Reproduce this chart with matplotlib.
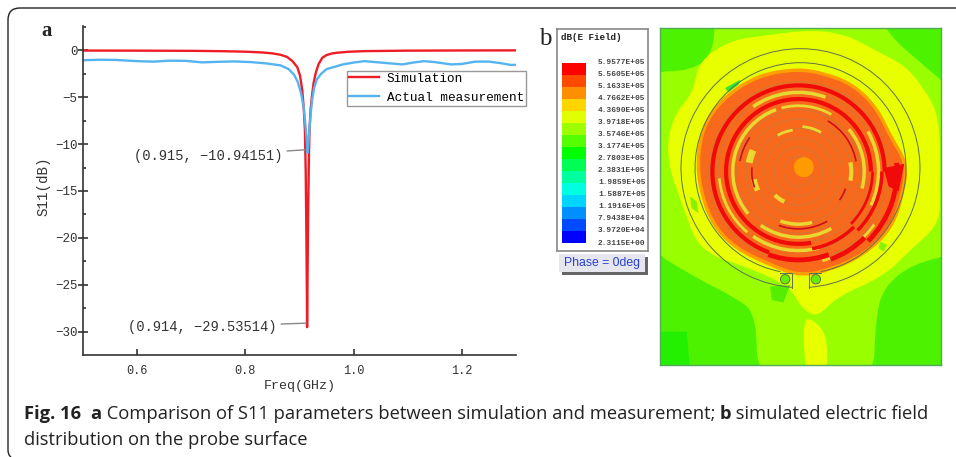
import numpy as np
import matplotlib
matplotlib.use('Agg')
import matplotlib.pyplot as plt
from matplotlib.patches import Arc, Circle, Polygon, Rectangle
from matplotlib.path import Path
from matplotlib.patches import PathPatch

# S11 curves
sim_freq = [0.5, 0.6, 0.7, 0.76, 0.8, 0.83, 0.85, 0.865, 0.877, 0.887, 0.896, 0.901, 0.905, 0.908, 0.910, 0.9115,
            0.9128, 0.9137, 0.914, 0.9146, 0.9158, 0.9175, 0.9185, 0.9205, 0.923, 0.926, 0.930, 0.935, 0.942, 0.95,
            0.96, 0.97, 0.99, 1.02, 1.1, 1.2, 1.3]
sim_s11 = [-0.02, -0.03, -0.05, -0.09, -0.14, -0.22, -0.32, -0.47, -0.7, -1.15, -1.8, -2.7, -4.2, -6.3, -8.5, -13,
           -20, -26.5, -29.53, -26, -18, -11, -8.5, -6.3, -4.9, -3.5, -2.4, -1.5, -0.8, -0.5,
           -0.33, -0.25, -0.15, -0.08, -0.03, -0.01, 0.0]

meas_freq = [0.5, 0.53, 0.56, 0.6, 0.63, 0.66, 0.69, 0.72, 0.75, 0.78, 0.81, 0.84, 0.865, 0.88, 0.89, 0.897, 0.903,
             0.908, 0.912, 0.915, 0.917, 0.92, 0.923, 0.927, 0.932, 0.94, 0.95, 0.965, 0.98, 1.0, 1.02, 1.04, 1.06,
             1.09, 1.11, 1.13, 1.15, 1.18, 1.2, 1.225, 1.25, 1.27, 1.29, 1.3]
meas_s11 = [-1.05, -1.0, -1.02, -1.15, -1.2, -1.1, -1.12, -1.28, -1.22, -1.18, -1.25, -1.4, -1.6, -2.0, -2.6, -3.4,
            -4.6, -6.2, -8.6, -10.94, -9.5, -7.2, -5.4, -4.0, -3.1, -2.5, -2.0, -1.75, -1.5, -1.3, -1.15, -1.25,
            -1.35, -1.5, -1.3, -1.15, -1.25, -1.5, -1.45, -1.2, -1.2, -1.35, -1.55, -1.55]

x_ticks = [0.6, 0.8, 1.0, 1.2]
y_ticks = [0, -5, -10, -15, -20, -25, -30]
y_minor = [2.5, -2.5, -7.5, -12.5, -17.5, -22.5, -27.5]

# colour key of panel b, top to bottom
key_labels = ['5.9577E+05', '5.5605E+05', '5.1633E+05', '4.7662E+05', '4.3690E+05', '3.9718E+05', '3.5746E+05',
              '3.1774E+05', '2.7803E+05', '2.3831E+05', '1.9859E+05', '1.5887E+05', '1.1916E+05', '7.9438E+04',
              '3.9720E+04', '2.3115E+00']
key_colors = ['#ff0000', '#ff4a00', '#ff8f00', '#ffd500', '#e0ff00', '#9dff00', '#55ff00', '#00ff00',
              '#00ff55', '#00ff9d', '#00ffe0', '#00d5ff', '#008fff', '#004aff', '#0000ff']

# field map contours
field_green = '#4df200'
band_yellowgreen = [(190, -40), (670, -40), (720, 50), (800, 120), (930, 230), (930, 700), (790, 730), (700, 800),
                    (675, 900), (670, 1100), (320, 1100), (320, 880), (250, 830), (130, 770), (-30, 670), (-30, 155),
                    (130, 155), (195, 90)]
band_yellow = [(340, 48), (480, 30), (590, 45), (680, 95), (760, 135), (810, 190), (870, 290), (868, 500),
               (870, 610), (780, 690), (700, 770), (560, 830), (500, 895), (450, 860), (420, 800), (300, 745),
               (150, 695), (105, 580), (45, 410), (70, 285), (130, 220), (145, 125), (240, 62)]
stem_yellow = [(455, 890), (500, 905), (535, 960), (525, 1100), (470, 1100)]
band_orange = [(440, 148), (520, 160), (610, 195), (680, 265), (720, 350), (770, 430), (758, 520), (725, 625),
               (640, 705), (540, 750), (450, 768), (360, 735), (255, 685), (185, 610), (148, 500), (143, 400),
               (165, 305), (230, 225), (330, 165)]
red_tip = [(700, 445), (762, 432), (745, 515), (715, 500)]
green_spots = [[(225, 205), (270, 180), (265, 195), (235, 218)],
               [(360, 800), (420, 795), (400, 848), (365, 840)],
               [(20, 935), (110, 935), (120, 1050), (20, 1050)],
               [(120, 530), (140, 545), (145, 580), (125, 565)],
               [(690, 665), (710, 675), (700, 695), (685, 685)]]
green_spot_colors = ['#33e833', '#55ee00', '#22f000', '#88f000', '#88f000']

# radius, start, end (degrees, clockwise on screen), line width
red_arcs = [(295, -5, 45, 3.5), (280, 45, 70, 3.5), (265, 70, 110, 3.5), (258, 110, 360, 3),
            (250, 0, 45, 2.5), (235, 45, 80, 2.5), (217, 80, 360, 3), (222, 0, 45, 2)]
dark_arcs = [(178, 190, 215, 1.2), (175, 300, 350, 1.2), (172, 60, 110, 1.2), (140, 160, 185, 1.2), (150, 20, 35, 1.2)]
yellow_arcs = [(277, 35, 75, 2), (237, 75, 125, 2.5), (237, 235, 290, 2.5), (240, 330, 385, 2.5), (238, 130, 175, 2),
               (197, 60, 125, 2.5), (197, 140, 250, 2.5), (197, 255, 300, 2), (197, 320, 375, 2.5),
               (158, 75, 110, 2.5), (158, 350, 370, 3), (150, 190, 205, 5), (135, 155, 170, 4), (100, 115, 135, 3),
               (125, 240, 262, 2), (135, 275, 300, 2)]
thin_radii = [45, 73, 101, 129, 157, 185, 213, 241, 269]

plt.rcParams['font.family'] = 'Liberation Mono'

fig = plt.figure(figsize=(9.56, 4.57), dpi=100)
W, H = 956, 457


def px_axes(x0, y0, x1, y1):
    return fig.add_axes([x0 / W, 1 - y1 / H, (x1 - x0) / W, (y1 - y0) / H])


def blob(pts, **kw):
    # closed quadratic spline with the traced points as control points
    n = len(pts)
    mids = [((pts[i][0] + pts[(i + 1) % n][0]) / 2, (pts[i][1] + pts[(i + 1) % n][1]) / 2) for i in range(n)]
    verts = [mids[-1]]
    codes = [Path.MOVETO]
    for i in range(n):
        verts += [pts[i], mids[i]]
        codes += [Path.CURVE3, Path.CURVE3]
    return PathPatch(Path(verts, codes), **kw)


# page layer: frame, letters, caption
page = fig.add_axes([0, 0, 1, 1])
page.set_xlim(0, W)
page.set_ylim(H, 0)
page.axis('off')
frame = Path([(W, 8), (20, 8), (8, 8), (8, 20), (8, 450), (8, 455), (11, 457)],
             [Path.MOVETO, Path.LINETO, Path.CURVE3, Path.CURVE3, Path.LINETO, Path.CURVE3, Path.CURVE3])
page.add_patch(PathPatch(frame, fill=False, ec='#222222', lw=1.0))
page.text(47, 31, 'a', family='Liberation Serif', fontsize=15, weight='bold', va='center', ha='center',
          color='#222222')
page.text(545, 39, 'b', family='Liberation Serif', fontsize=18, va='center', ha='center', color='#222222')

renderer = fig.canvas.get_renderer()
cap_x = 24
for piece, weight in [('Fig. 16', 'bold'), ('  ', 'normal'), ('a', 'bold'),
                      (' Comparison of S11 parameters between simulation and measurement; ', 'normal'),
                      ('b', 'bold'), (' simulated electric field', 'normal')]:
    t = page.text(cap_x, 419, piece.replace(' ', '\u00a0'), family='Open Sans', fontsize=13.2, weight=weight,
                  color='#222222', va='baseline')
    cap_x += t.get_window_extent(renderer).width
page.text(24, 445, 'distribution on the probe surface', family='Open Sans', fontsize=13.2, color='#222222',
          va='baseline')

# panel a
ax = px_axes(83, 26, 516, 355)
ax.plot(sim_freq, sim_s11, color='#ee1c25', lw=1.7, label='Simulation')
ax.plot(meas_freq, meas_s11, color='#55b4f0', lw=1.7, label='Actual measurement')
ax.set_xlim(0.5, 1.3)
ax.set_ylim(-32.5, 2.6)
ax.spines[['top', 'right']].set_visible(False)
ax.spines[['left', 'bottom']].set_linewidth(1.2)
ax.spines[['left', 'bottom']].set_color('#333333')
ax.set_xticks(x_ticks)
ax.set_xticklabels([f'{v:.1f}' for v in x_ticks], fontsize=8.6, color='#333333')
ax.set_yticks(y_ticks)
ax.set_yticklabels([str(v).replace('-', '\u2212') for v in y_ticks], fontsize=9, color='#333333')
ax.set_yticks(y_minor, minor=True)
ax.tick_params(axis='x', which='major', direction='in', length=4.5, width=1.2, color='#333333', pad=7)
ax.tick_params(axis='y', which='major', direction='inout', length=7, width=1.2, color='#333333', pad=0.5)
ax.tick_params(axis='y', which='minor', direction='in', length=2.5, width=1.2, color='#333333')
ax.set_xlabel('Freq(GHz)', fontsize=9.6, color='#333333', labelpad=2)
ax.set_ylabel('S11(dB)', fontsize=10.2, color='#333333')
ax.yaxis.set_label_coords(-0.076, 0.514)
leg = ax.legend(loc='upper left', bbox_to_anchor=((347 - 83) / 433, 1 - (71 - 26) / 329), fontsize=9.2,
                frameon=True, fancybox=False, edgecolor='#999999', framealpha=1, borderaxespad=0, borderpad=0.15,
                handlelength=2.35, handletextpad=0.6, labelspacing=0.55)
leg.get_frame().set_linewidth(1.0)
ax.annotate('(0.915, \u221210.94151)', xy=(0.9125, -10.6), xytext=(283, 156), textcoords=page.transData,
            ha='right', va='center', fontsize=9.9, color='#333333',
            arrowprops=dict(arrowstyle='-', color='#888888', lw=1, shrinkA=1, shrinkB=0))
ax.annotate('(0.914, \u221229.53514)', xy=(0.912, -29.1), xytext=(277, 327), textcoords=page.transData,
            ha='right', va='center', fontsize=9.9, color='#333333',
            arrowprops=dict(arrowstyle='-', color='#888888', lw=1, shrinkA=1, shrinkB=0))

# panel b, key
key = px_axes(556.5, 29, 648, 251)
key.set_xlim(556.5, 648)
key.set_ylim(251, 29)
key.set_xticks([])
key.set_yticks([])
for s in key.spines.values():
    s.set_color('#888888')
    s.set_linewidth(1.2)
key.text(561, 38, 'dB(E Field)', fontsize=6.7, weight='bold', color='#222222', va='center')
for i, c in enumerate(key_colors):
    key.add_patch(Rectangle((561.7, 62.5 + i * 12.02), 24, 12.02, fc=c, ec='none'))
for i, s in enumerate(key_labels):
    key.text(645.5, 62.7 + i * 12.02, s, fontsize=5.7, weight='bold', ha='right', va='center', color='#444444')

page.add_patch(Rectangle((562, 257), 86, 18, fc='#666666', ec='none'))
page.add_patch(Rectangle((559, 254), 86, 18, fc='#e6e6ee', ec='none'))
page.text(602, 263, 'Phase = 0deg', family='Liberation Sans', fontsize=8.8, color='#2a3fd0', ha='center',
          va='center')

# panel b, field map, axes in traced units
fm = px_axes(660, 28, 941, 365)
fm.set_xlim(30, 872)
fm.set_ylim(1035, 25)
fm.set_xticks([])
fm.set_yticks([])
fm.set_facecolor(field_green)
for s in fm.spines.values():
    s.set_color('#55aa55')
    s.set_linewidth(1.0)

fm.add_patch(blob(band_yellowgreen, fc='#99ff00', ec='none'))
fm.add_patch(blob(band_yellow, fc='#e8ff00', ec='none'))
fm.add_patch(blob(stem_yellow, fc='#e8ff00', ec='none'))
for pts, c in zip(green_spots, green_spot_colors):
    fm.add_patch(Polygon(pts, fc=c, ec='none'))
fm.add_patch(blob(band_orange, fc='#f9691c', ec='#ffa000', lw=2.5))

cx, cy = 445, 455
for r in thin_radii:
    fm.add_patch(Circle((cx, cy), r, fill=False, ec='#c87a3a', lw=0.6))
for r, a, b, lw in yellow_arcs:
    fm.add_patch(Arc((cx, cy), 2 * r, 2 * r, theta1=a, theta2=b, color='#e8d830', lw=lw))
for r, a, b, lw in red_arcs:
    fm.add_patch(Arc((cx, cy), 2 * r, 2 * r, theta1=a, theta2=b, color='#f00a0a', lw=lw))
for r, a, b, lw in dark_arcs:
    fm.add_patch(Arc((cx, cy), 2 * r, 2 * r, theta1=a, theta2=b, color='#c81020', lw=lw))
fm.add_patch(Polygon(red_tip, fc='#f00a0a', ec='none'))
fm.add_patch(Circle((461, 442), 30, fc='#ff9a00', ec='none'))

line_c = '#5e7050'
fm.add_patch(Arc((451, 445), 716, 716, theta1=94, theta2=446, color=line_c, lw=0.7))
fm.add_patch(Arc((451, 445), 632, 632, theta1=101, theta2=439, color=line_c, lw=0.7))
for px in [(390, 760, 427, 760), (427, 760, 427, 803), (512, 760, 475, 760), (475, 760, 475, 803)]:
    fm.plot([px[0], px[2]], [px[1], px[3]], color=line_c, lw=0.7)
fm.add_patch(Circle((405, 778), 14, fc='#66ee00', ec=line_c, lw=0.7))
fm.add_patch(Circle((497, 778), 14, fc='#66ee00', ec=line_c, lw=0.7))

fig.savefig('out.png', dpi=100)
